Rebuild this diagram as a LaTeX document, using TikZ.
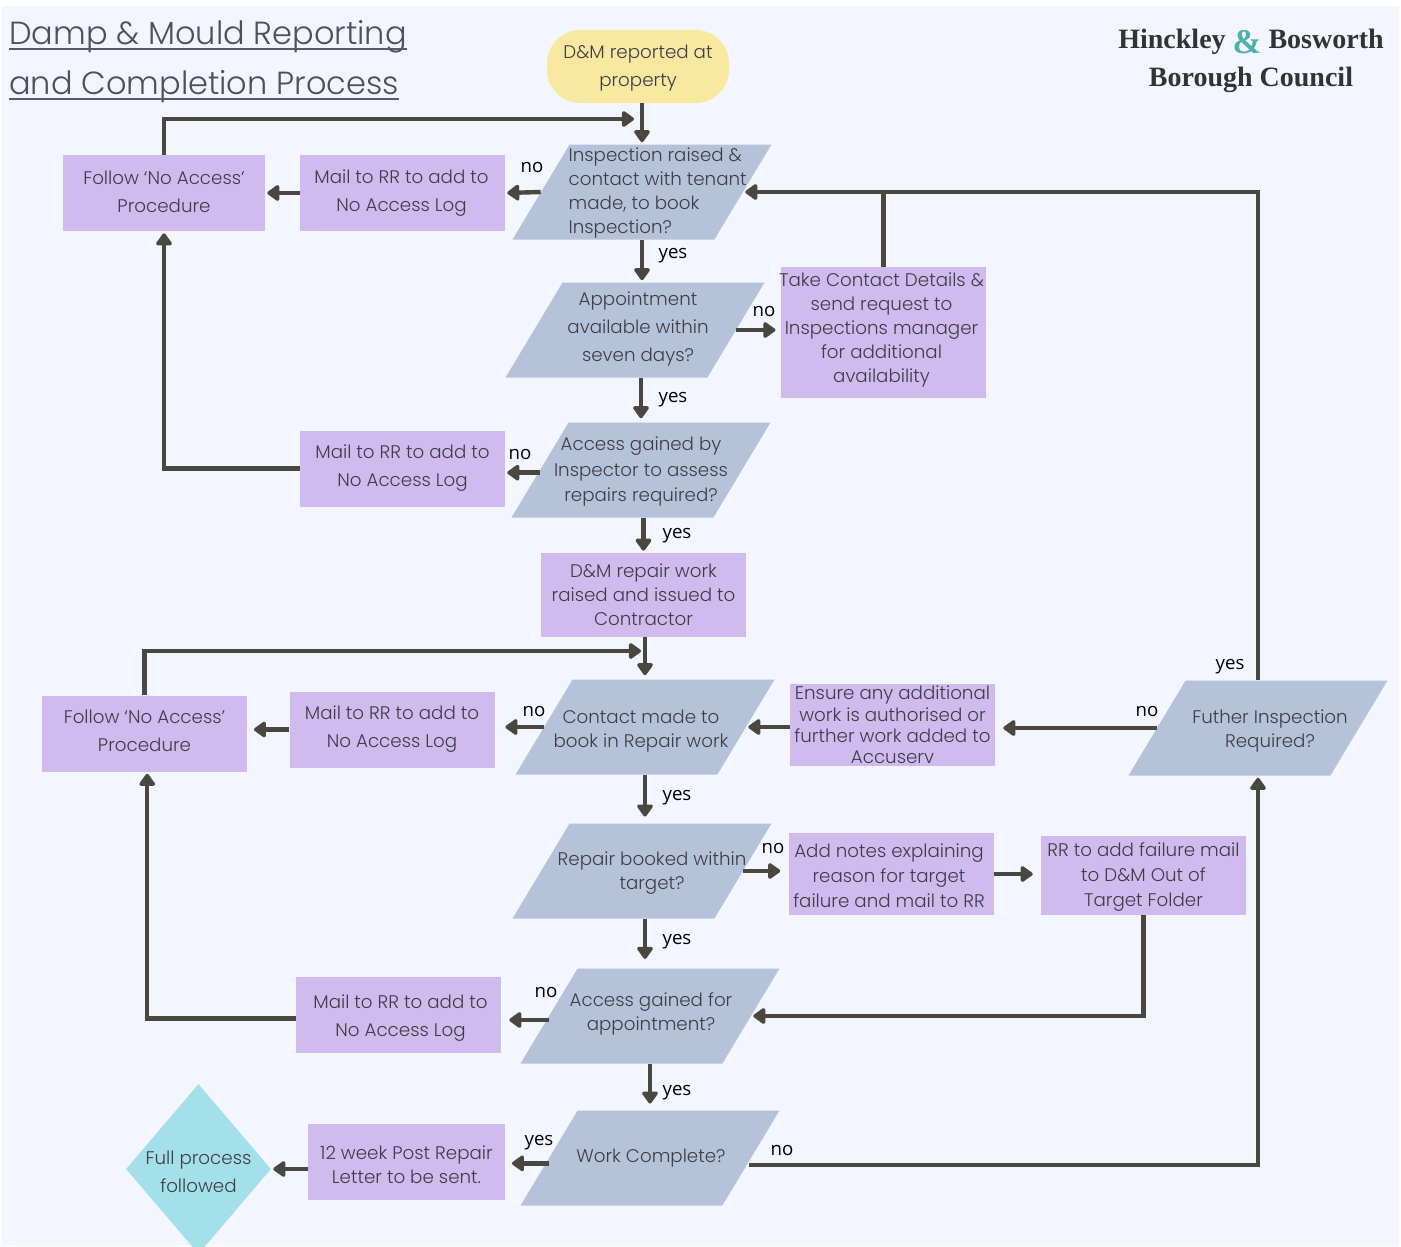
\documentclass[tikz,border=0pt]{standalone}
\usepackage{fontspec}
\setmainfont{Poppins}[UprightFont=* Light]
\newfontfamily\lblfont{Open Sans}
\newfontfamily\logofont{Liberation Serif}
\usetikzlibrary{arrows.meta}
\usetikzlibrary{shapes.geometric}
\definecolor{pagebg}{HTML}{F3F6FE}
\definecolor{boxfill}{HTML}{CFBBEE}
\definecolor{parafill}{HTML}{B5C3DA}
\definecolor{startfill}{HTML}{F8E8A0}
\definecolor{endfill}{HTML}{A3E0EA}
\definecolor{inkgrey}{HTML}{3E3D48}
\definecolor{arrowgrey}{HTML}{4A4640}
\definecolor{logoteal}{HTML}{4DB3A8}
\tikzstyle{txt}=[text=inkgrey, font=\fontsize{13.7}{18}\selectfont]
\tikzstyle{rect}=[txt, rectangle, fill=boxfill, inner sep=0pt, align=center, minimum width=205*0.75pt, minimum height=76*0.75pt]
\tikzstyle{para}=[txt, trapezium, fill=parafill, inner xsep=0pt, inner ysep=47.5*0.75pt, trapezium left angle=59, trapezium right angle=121, trapezium stretches body=true, minimum width=259*0.75pt]
\tikzstyle{start}=[txt, rectangle, rounded corners=25pt, fill=startfill, inner sep=0pt, align=center, minimum width=182*0.75pt, minimum height=73*0.75pt]
\tikzstyle{finish}=[txt, diamond, fill=endfill, inner sep=0pt, minimum width=145*0.75pt, minimum height=170*0.75pt]
\tikzstyle{lbl}=[inner sep=0pt, yshift=-1.7pt, text=black, font=\lblfont\fontsize{14}{16}\selectfont]
\tikzstyle{title}=[inner sep=0pt, anchor=base west, text=inkgrey!90, font=\fontsize{24}{32}\selectfont]
\tikzstyle{titlerule}=[draw=inkgrey!85, line width=1.3pt]
\tikzstyle{logo}=[inner sep=0pt, align=center, text=black!80, font=\logofont\bfseries\fontsize{21}{29}\selectfont]
\tikzstyle{flow}=[draw=arrowgrey, line width=3.3pt, -{Triangle[width=13.5pt,length=10pt,round]}, shorten >=1.5pt]
\tikzstyle{link}=[draw=arrowgrey, line width=3.3pt]
\newcommand{\ptxt}[3]{\smash{\raisebox{\dimexpr #2pt*3/4-0.3em}{\makebox[0pt]{\hspace*{\dimexpr #1pt*3/2}\parbox[c]{260pt}{\centering #3}}}}}
\newcommand{\ltxt}[3]{\smash{\raisebox{-0.3em}{\makebox[0pt]{\hspace*{#1}\parbox[c]{#2}{#3}}}}}
\begin{document}
\begin{tikzpicture}[x=0.75pt, y=-0.75pt]
	\clip (0,0) rectangle (1401,1246);
	\fill[pagebg] (2,6) rectangle (1399,1246);
	%%
	\draw (9,44) node[title] (title1) {Damp \& Mould Reporting};
	\draw (9,94) node[title] (title2) {and Completion Process};
	\draw[titlerule] ([yshift=-3.5pt]title1.base west) -- ([yshift=-3.5pt]title1.base east);
	\draw[titlerule] ([yshift=-3.5pt]title2.base west) -- ([yshift=-3.5pt]title2.base east);
	\draw (1251,61) node[logo] (logo) {Hinckley {\color{logoteal}\fontsize{26}{26}\selectfont\raisebox{-4pt}{\&}} Bosworth\\Borough Council};
	\draw (638,66.5) node[start] (start) {\ptxt{0}{-1}{D\&M reported at\\[3pt]property}};
	%%%%%%
	\draw (642,192) node[para] (d1) {\ltxt{30pt}{140pt}{\raggedright Inspection raised \&\\contact with tenant\\made, to book\\Inspection?}};
	\draw (635,330) node[para] (d2) {\ptxt{3}{2}{Appointment\\[3pt]available within\\[3pt]seven days?}};
	\draw (641,470) node[para] (d3) {\ptxt{0}{-1}{Access gained by\\[1pt]Inspector to assess\\[1pt]repairs required?}};
	\draw (645,727) node[para] (d4) {\ptxt{-4}{-3}{Contact made to\\book in Repair work}};
	\draw (642,871) node[para] (d5) {\ptxt{10}{-1}{Repair booked within\\target?}};
	\draw (650,1016) node[para] (d6) {\ptxt{1}{3}{Access gained for\\appointment?}};
	\draw (650,1158) node[para] (d7) {\ptxt{1}{1}{Work Complete?}};
	\draw (1258,728) node[para] (d8) {\ptxt{12}{-2}{Futher Inspection\\Required?}};
	%%
	\draw (164,193) node[rect, minimum width=202*0.75pt] (follow1) {\ptxt{0}{2}{Follow ‘No Access’\\[3pt]Procedure}};
	\draw (402.5,193) node[rect] (mail1) {\ptxt{-1}{1}{Mail to RR to add to\\[3pt]No Access Log}};
	\draw (883.5,332.5) node[rect, minimum height=131*0.75pt] (contact) {\ptxt{-2}{3}{Take Contact Details \&\\send request to\\Inspections manager\\for additional\\availability}};
	\draw (402.5,468.5) node[rect] (mail2) {Mail to RR to add to\\[3pt]No Access Log};
	\draw (643.5,595) node[rect, minimum height=84*0.75pt] (repair) {D\&M repair work\\raised and issued to\\Contractor};
	\draw (144.5,733.5) node[rect] (follow2) {\ptxt{0}{3}{Follow ‘No Access’\\[3pt]Procedure}};
	\draw (392,729.5) node[rect] (mail3) {Mail to RR to add to\\[3pt]No Access Log};
	\draw (892.5,725) node[rect, minimum height=82*0.75pt, font=\fontsize{13.7}{16}\selectfont] (ensure) {Ensure any additional\\work is authorised or\\further work added to\\Accuserv};
	\draw (891,874) node[rect, minimum height=82*0.75pt] (notes) {\ptxt{-2}{-1}{Add notes explaining\\[1pt]reason for target\\[1pt]failure and mail to RR}};
	\draw (1143.5,875.5) node[rect, minimum height=79*0.75pt] (failure) {\ptxt{0}{-1}{RR to add failure mail\\[1pt]to D\&M Out of\\[1pt]Target Folder}};
	\draw (398.5,1014.5) node[rect] (mail4) {\ptxt{2}{-3}{Mail to RR to add to\\[3pt]No Access Log}};
	\draw (406.5,1162) node[rect, minimum width=197*0.75pt] (letter) {\ptxt{0}{-2}{12 week Post Repair\\Letter to be sent.}};
	\draw (198.5,1169) node[finish] (done) {\ptxt{0}{-2}{Full process\\[3pt]followed}};
	%%%%%%
	\coordinate (loop1) at (636,119);
	\coordinate (loop2) at (643,651);
	\coordinate (workno) at (749,1165);
	%%
	\draw[flow] (start.south -| d1.north) -- (d1.north);
	\draw[flow] (follow1.north) |- (loop1);
	\draw[flow] (d1.west) -- (mail1.east);
	\draw[flow] (mail1.west) -- (follow1.east);
	\draw[flow] (d1.south) -- (d1.south |- d2.north);
	\draw[flow, shorten >=4pt] (d2.east) -- (d2.east -| contact.west);
	\draw[link] (contact.north) -- (contact.north |- d1.east);
	\draw[flow, shorten >=3pt] (d3.north |- d2.south) -- (d3.north);
	\draw[flow] ([yshift=-2pt]d3.west) -- ([yshift=-2pt]d3.west -| mail2.east);
	\draw[flow] (mail2.west) -| (follow1.south);
	\draw[flow] (repair.north |- d3.south) -- (repair.north);
	%%
	\draw[flow, shorten >=3pt] (d4.north |- repair.south) -- (d4.north);
	\draw[flow] (follow2.north) |- (loop2);
	\draw[flow, shorten >=8pt] (d4.west) -- (d4.west -| mail3.east);
	\draw[flow, shorten >=5pt] (mail3.west) -- (mail3.west -| follow2.east);
	\draw[flow] ([yshift=-1.5pt]ensure.west) -- ([yshift=-1.5pt]ensure.west -| d4.east);
	\draw[flow, shorten >=6pt] (d8.west) -- (d8.west -| ensure.east);
	\draw[flow] (d8.north) |- (d1.east);
	%%
	\draw[flow, shorten >=5pt] (d4.south) -- (d4.south |- d5.north);
	\draw[flow, shorten >=6pt] (d5.east) -- (d5.east -| notes.west);
	\draw[flow, shorten >=6pt] (notes.east) -- (notes.east -| failure.west);
	\draw[flow] (failure.south) |- (d6.east);
	\draw[flow, shorten >=7pt] (d5.south -| d4.south) -- (d4.south |- d6.north);
	\draw[flow, shorten >=6pt] ([yshift=-3pt]d6.west) -- ([yshift=-3pt]d6.west -| mail4.east);
	\draw[flow] ([yshift=-3pt]mail4.west) -| ([xshift=2pt]follow2.south);
	\draw[flow, shorten >=5pt] (d6.south) -- (d7.north);
	\draw[flow, shorten >=5pt] ([yshift=-4pt]d7.west) -- ([yshift=-4pt]d7.west -| letter.east);
	\draw[flow] (done.east -| letter.west) -- (done.east);
	\draw[flow] (workno) -| (d8.south);
	%%%%%%
	\draw (532,165) node[lbl] (no1) {no};
	\draw (673,253) node[lbl] (yes1) {yes};
	\draw (764,309) node[lbl] (no2) {no};
	\draw (673,397) node[lbl] (yes2) {yes};
	\draw (520,452) node[lbl] (no3) {no};
	\draw (677,533) node[lbl] (yes3) {yes};
	\draw (534,709) node[lbl] (no4) {no};
	\draw (677,795) node[lbl] (yes4) {yes};
	\draw (1147,709) node[lbl] (no5) {no};
	\draw (1230,664) node[lbl] (yes5) {yes};
	\draw (773,846) node[lbl] (no6) {no};
	\draw (677,939) node[lbl] (yes6) {yes};
	\draw (546,990) node[lbl] (no7) {no};
	\draw (677,1090) node[lbl] (yes7) {yes};
	\draw (539,1140) node[lbl] (yes8) {yes};
	\draw (782,1148) node[lbl] (no8) {no};
\end{tikzpicture}
\end{document}
